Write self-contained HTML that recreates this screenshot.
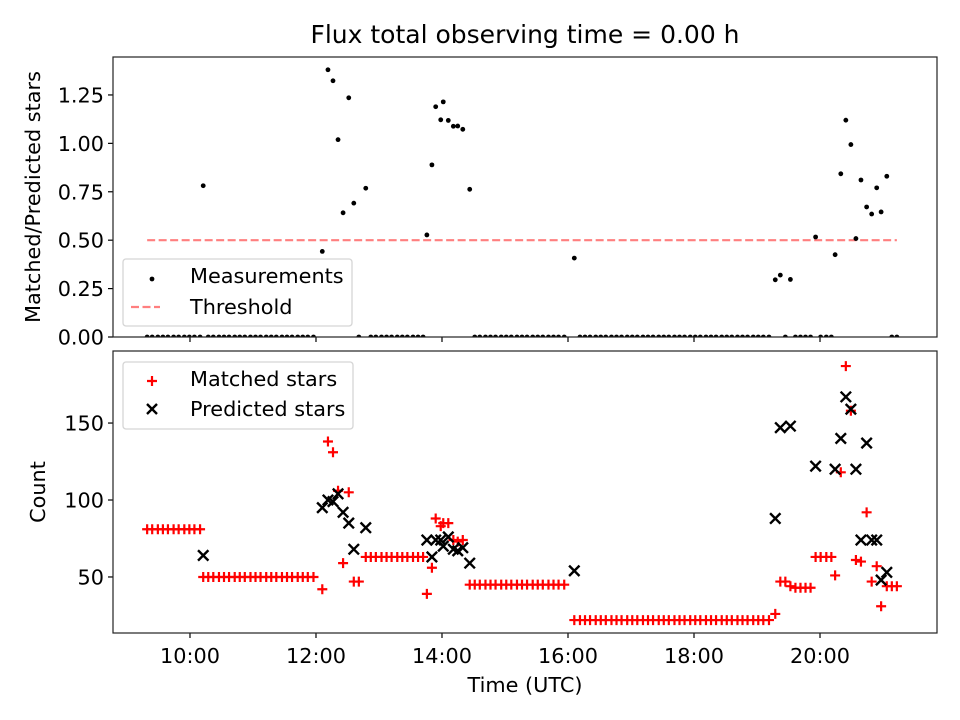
<!DOCTYPE html>
<html><head><meta charset="utf-8"><style>
body{margin:0;background:#fff;}
svg{display:block;font-family:"DejaVu Sans","Liberation Sans",sans-serif;}
</style></head><body>
<svg id="c" width="960" height="720"></svg>
<script>
const times=[9.32,9.40,9.49,9.57,9.65,9.74,9.82,9.91,9.99,10.07,10.16,10.21,
10.29,10.37,10.46,10.54,10.62,10.71,10.79,10.87,10.96,11.04,11.12,11.21,11.29,11.37,11.46,11.54,11.62,11.71,11.79,11.87,11.96,
12.10,12.19,12.27,12.35,12.43,12.52,12.60,12.68,12.79,
12.87,12.95,13.04,13.12,13.20,13.29,13.37,13.45,13.54,13.62,13.70,
13.76,13.84,13.90,13.98,14.02,14.10,14.18,14.25,14.33,14.44,
14.52,14.60,14.69,14.77,14.85,14.94,15.02,15.10,15.19,15.27,15.35,15.44,15.52,15.60,15.69,15.77,15.85,15.94,
16.10,
16.19,16.27,16.35,16.44,16.52,16.60,16.69,16.77,16.85,16.94,17.02,17.10,17.19,17.27,17.35,17.44,17.52,17.60,17.69,17.77,17.85,17.94,18.02,18.10,18.19,18.27,18.35,18.44,18.52,18.60,18.69,18.77,18.85,18.94,19.02,19.10,19.19,
19.29,19.37,19.45,19.53,19.61,19.69,19.77,19.85,19.93,20.01,20.10,20.18,20.24,20.33,20.41,20.49,20.57,20.65,20.74,20.82,20.90,20.97,21.06,21.14,21.22];
const matched=[81,81,81,81,81,81,81,81,81,81,81,50,
50,50,50,50,50,50,50,50,50,50,50,50,50,50,50,50,50,50,50,50,50,
42,138,131,106,59,105,47,47,63,
63,63,63,63,63,63,63,63,63,63,63,
39,56,88,83,85,85,74,73,74,45,
45,45,45,45,45,45,45,45,45,45,45,45,45,45,45,45,45,45,
22,
22,22,22,22,22,22,22,22,22,22,22,22,22,22,22,22,22,22,22,22,22,22,22,22,22,22,22,22,22,22,22,22,22,22,22,22,22,
26,47,47,44,43,43,43,43,63,63,63,63,51,118,187,158,61,60,92,47,57,31,44,44,44];
const N=null;
const predicted=[N,N,N,N,N,N,N,N,N,N,N,64,
N,N,N,N,N,N,N,N,N,N,N,N,N,N,N,N,N,N,N,N,N,
95,100,99,104,92,85,68,N,82,
N,N,N,N,N,N,N,N,N,N,N,
74,63,74,74,70,76,68,67,69,59,
N,N,N,N,N,N,N,N,N,N,N,N,N,N,N,N,N,N,
54,
N,N,N,N,N,N,N,N,N,N,N,N,N,N,N,N,N,N,N,N,N,N,N,N,N,N,N,N,N,N,N,N,N,N,N,N,N,
88,147,N,148,N,N,N,N,122,N,N,N,120,140,167,159,120,74,137,74,74,48,53,N,N];
const threshold=0.5;
const xTicks=[10,12,14,16,18,20];
const topTicks=[0,0.25,0.5,0.75,1.0,1.25];
const botTicks=[50,100,150];

const NS="http://www.w3.org/2000/svg";
const svg=document.getElementById('c');
function el(t,a,p){const e=document.createElementNS(NS,t);for(const k in a)e.setAttribute(k,a[k]);(p||svg).appendChild(e);return e;}
const L=113,R=937,T1=57,B1=337,T2=351,B2=633;
const xMin=8.778,xMax=21.857;
const FS=20.8;
const X=h=>L+(h-xMin)/(xMax-xMin)*(R-L);
const Y1=v=>B1-v/1.446*(B1-T1);
const Y2=v=>B2-(v-13.6)/(196.8-13.6)*(B2-T2);
const fmt=h=>(h<10?'0':'')+h+':00';

let t=el('text',{x:525,y:43,'font-size':25,'text-anchor':'middle',fill:'#000'});
t.textContent='Flux total observing time = 0.00 h';



topTicks.forEach(v=>{
  const y=Y1(v);
  el('line',{x1:L-5,x2:L,y1:y,y2:y,stroke:'#000','stroke-width':1.2});
  const tt=el('text',{x:L-9,y:y+7.5,'font-size':FS,'text-anchor':'end'});
  tt.textContent=v.toFixed(2);
  
  
});
botTicks.forEach(v=>{
  const y=Y2(v);
  el('line',{x1:L-5,x2:L,y1:y,y2:y,stroke:'#000','stroke-width':1.2});
  const tt=el('text',{x:L-9,y:y+7.5,'font-size':FS,'text-anchor':'end'});
  tt.textContent=v;
  
  
});
xTicks.forEach(h=>{
  const x=X(h);
  el('line',{x1:x,x2:x,y1:B1,y2:B1+5,stroke:'#000','stroke-width':1.2});
  el('line',{x1:x,x2:x,y1:B2,y2:B2+5,stroke:'#000','stroke-width':1.2});
  const tt=el('text',{x:x,y:B2+30,'font-size':FS,'text-anchor':'middle'});
  tt.textContent=fmt(h);
  
  
});
let yc=(T1+B1)/2;
let yl=el('text',{x:40,y:yc,'font-size':FS,'text-anchor':'middle',transform:`rotate(-90 40 ${yc})`});
yl.textContent='Matched/Predicted stars';


let yc2=(T2+B2)/2;
let yl2=el('text',{x:45,y:yc2,'font-size':FS,'text-anchor':'middle',transform:`rotate(-90 45 ${yc2})`});
yl2.textContent='Count';


let xl=el('text',{x:525,y:692,'font-size':FS,'text-anchor':'middle'});
xl.textContent='Time (UTC)';



const defs=el('defs',{});
const c1=el('clipPath',{id:'c1'},defs);el('rect',{x:L,y:T1,width:R-L,height:B1-T1},c1);
const c2=el('clipPath',{id:'c2'},defs);el('rect',{x:L,y:T2,width:R-L,height:B2-T2},c2);
const g1=el('g',{'clip-path':'url(#c1)'});
const g2=el('g',{'clip-path':'url(#c2)'});

const th=el('line',{x1:X(times[0]),x2:X(times[times.length-1]),y1:Y1(threshold),y2:Y1(threshold),stroke:'#ff7f7f','stroke-width':2.2,'stroke-dasharray':'8,3.5'},g1);



times.forEach((h,i)=>{
  const r=predicted[i]?matched[i]/predicted[i]:0;
  const d=el('circle',{cx:X(h),cy:Y1(r),r:2.4,fill:'#000'},g1);
  
  
});
times.forEach((h,i)=>{
  const x=X(h),y=Y2(matched[i]);
  const p=el('path',{d:`M${x-5},${y}H${x+5}M${x},${y-5}V${y+5}`,stroke:'#ff0000','stroke-width':2.2},g2);
  
  
});
times.forEach((h,i)=>{
  if(predicted[i]==null)return;
  const x=X(h),y=Y2(predicted[i]),s=5.2;
  const p=el('path',{d:`M${x-s},${y-s}L${x+s},${y+s}M${x-s},${y+s}L${x+s},${y-s}`,stroke:'#000','stroke-width':2.4},g2);
  
  
});

el('rect',{x:L,y:T1,width:R-L,height:B1-T1,fill:'none',stroke:'#222','stroke-width':1.2});
el('rect',{x:L,y:T2,width:R-L,height:B2-T2,fill:'none',stroke:'#222','stroke-width':1.2});

function legend(x,y,w,h,name){const r=el('rect',{x:x,y:y,width:w,height:h,rx:3,fill:'#fff','fill-opacity':0.8,stroke:'#d5d5d5','stroke-width':1.3});}
legend(123,259,229,67,'top-legend');
el('circle',{cx:152,cy:279,r:2.4,fill:'#000'});
let lt=el('text',{x:190,y:283,'font-size':FS});lt.textContent='Measurements';

el('line',{x1:131,x2:160,y1:307,y2:307,stroke:'#ff7f7f','stroke-width':2.2,'stroke-dasharray':'8,3.5'});
lt=el('text',{x:190,y:314,'font-size':FS});lt.textContent='Threshold';

legend(123,362,230,67,'bottom-legend');
el('path',{d:'M147,381H157M152,376V386',stroke:'#ff0000','stroke-width':2.2});
lt=el('text',{x:190,y:386,'font-size':FS});lt.textContent='Matched stars';

el('path',{d:'M147,404L157,414M147,414L157,404',stroke:'#000','stroke-width':2.4});
lt=el('text',{x:190,y:416,'font-size':FS});lt.textContent='Predicted stars';

</script>
</body></html>
